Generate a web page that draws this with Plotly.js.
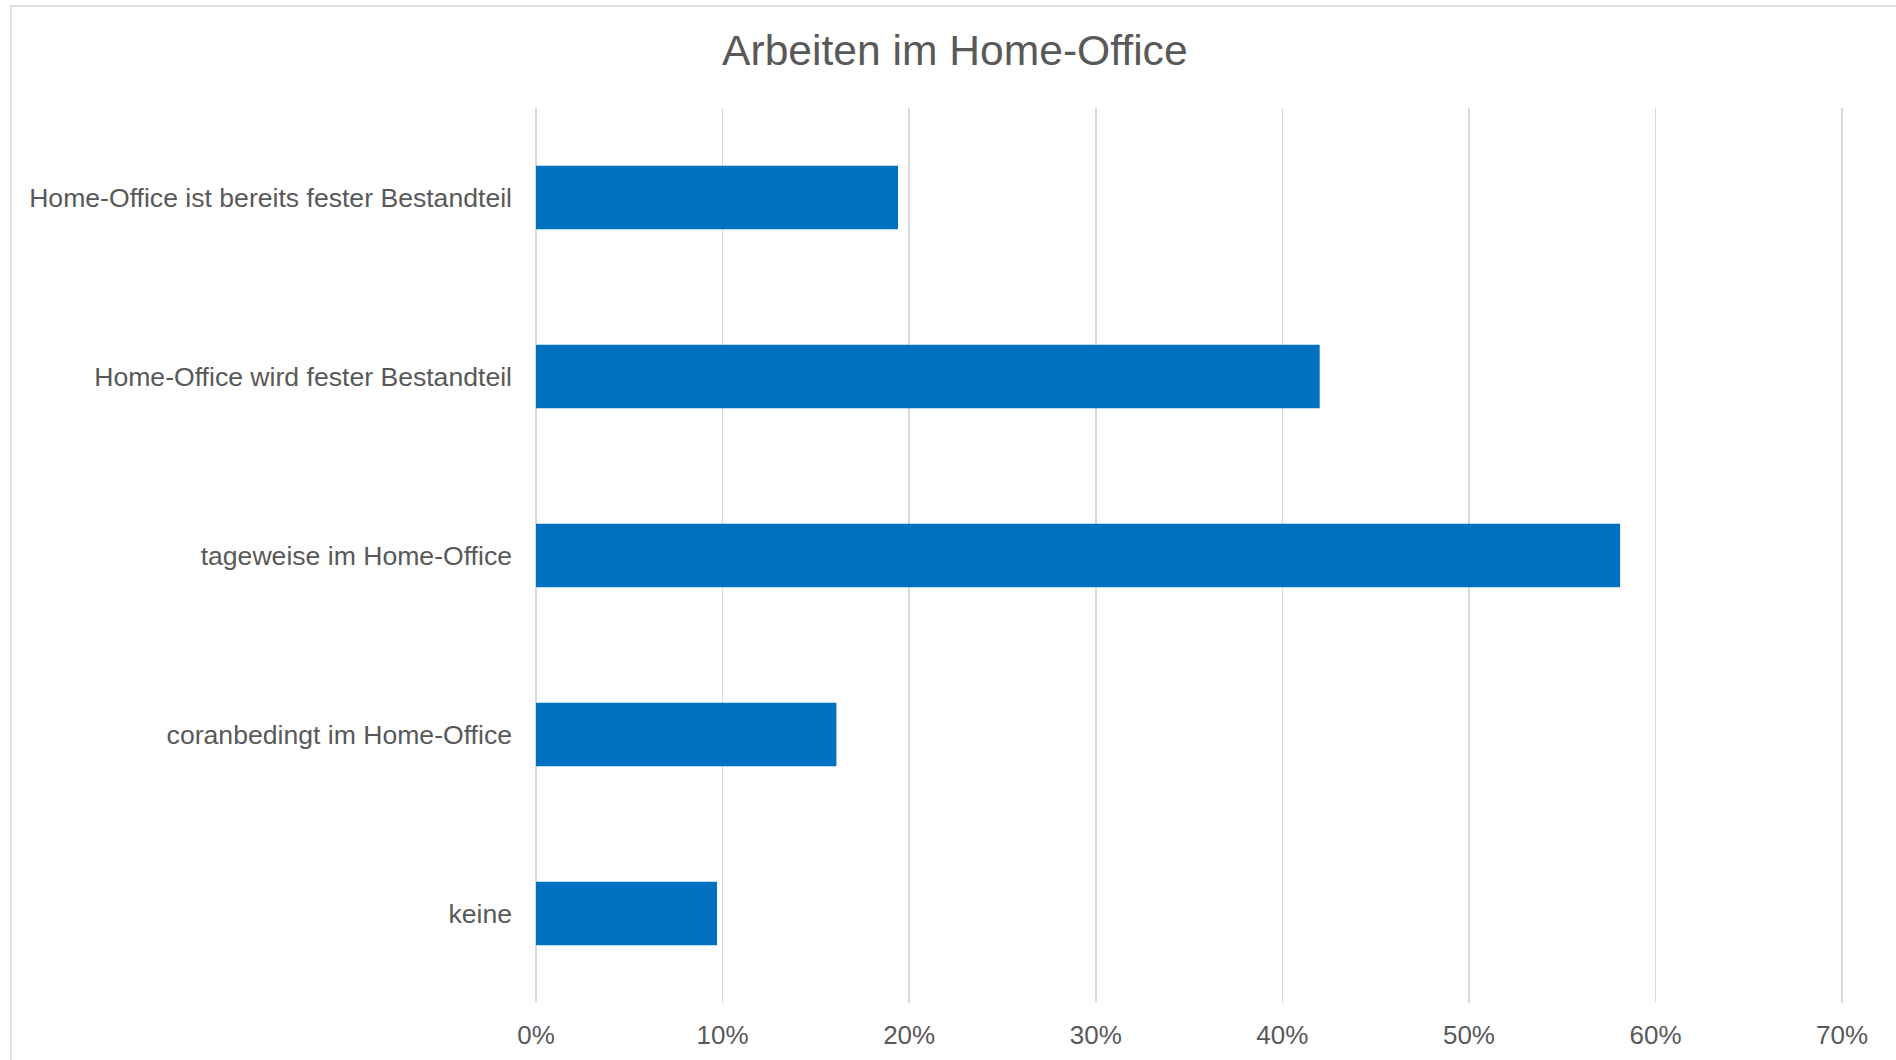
<!DOCTYPE html>
<html>
<head>
<meta charset="utf-8">
<script src="https://cdn.plot.ly/plotly-3.0.1.min.js"></script>
<style>
  html, body { margin: 0; padding: 0; background: #ffffff; }
  #chart { width: 1896px; height: 1060px; }
</style>
</head>
<body>
<div id="chart"></div>
<script>
// Data
const categories = [
  "Home-Office ist bereits fester Bestandteil",
  "Home-Office wird fester Bestandteil",
  "tageweise im Home-Office",
  "coranbedingt im Home-Office",
  "keine"
];
const shares = [0.194, 0.420, 0.581, 0.161, 0.097];
const tickValues = [0, 0.1, 0.2, 0.3, 0.4, 0.5, 0.6, 0.7];
const tickLabels = ["0%", "10%", "20%", "30%", "40%", "50%", "60%", "70%"];
const chartTitle = "Arbeiten im Home-Office";

const FONT = "Liberation Sans, Arial, sans-serif";
const TEXT = "#595959";
const GRID = "#d9d9d9";

const trace = {
  type: "bar",
  orientation: "h",
  x: shares,
  y: categories,
  marker: { color: "#0070c0", line: { width: 0 } },
  hoverinfo: "skip"
};

const layout = {
  width: 1896,
  height: 1060,
  paper_bgcolor: "#ffffff",
  plot_bgcolor: "#ffffff",
  margin: { l: 535.5, r: 51.6, t: 108, b: 56.5 },
  showlegend: false,
  bargap: 0.644,
  title: {
    text: chartTitle,
    font: { family: FONT, size: 42.6, color: TEXT },
    x: 0.5036, xref: "container", xanchor: "center",
    y: 1 - 50 / 1060, yref: "container", yanchor: "middle"
  },
  xaxis: {
    range: [0, 0.701],
    tickvals: tickValues,
    ticktext: tickLabels,
    showgrid: true,
    gridcolor: GRID,
    gridwidth: 1.5,
    zeroline: true,
    zerolinecolor: GRID,
    zerolinewidth: 1.5,
    showline: false,
    ticks: "",
    ticklabelstandoff: 14,
    tickfont: { family: FONT, size: 26, color: TEXT },
    fixedrange: true
  },
  yaxis: {
    type: "category",
    categoryorder: "array",
    categoryarray: categories,
    autorange: "reversed",
    showgrid: false,
    zeroline: false,
    showline: false,
    ticks: "",
    ticklabelstandoff: 23,
    tickfont: { family: FONT, size: 26.6, color: TEXT },
    fixedrange: true
  },
  shapes: [{
    type: "rect",
    xref: "paper", yref: "paper",
    x0: (10 - 535.5) / 1308.9, x1: 1.3,
    y0: -0.3, y1: (1003.5 - 6) / 895.5,
    line: { color: GRID, width: 1.5 },
    fillcolor: "rgba(0,0,0,0)",
    layer: "below"
  }]
};

Plotly.newPlot("chart", [trace], layout, { staticPlot: true, displayModeBar: false });
</script>
</body>
</html>
